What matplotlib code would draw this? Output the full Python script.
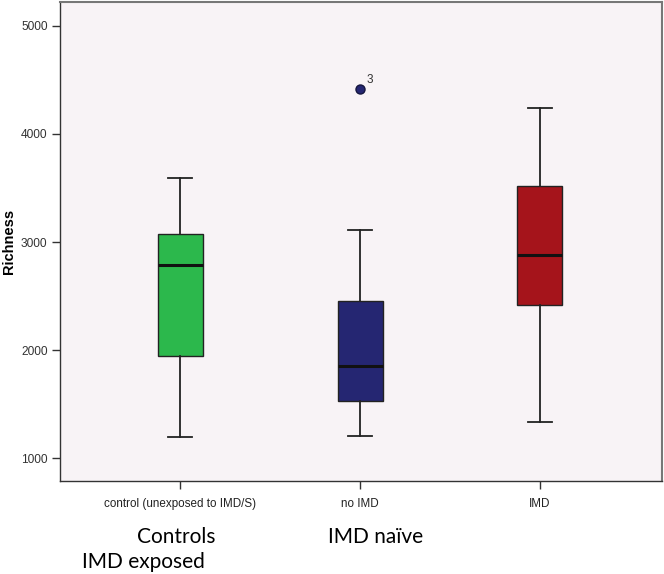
import matplotlib
matplotlib.use("Agg")
import matplotlib.pyplot as plt

categories = ["control (unexposed to IMD/S)", "no IMD", "IMD"]
whisker_low = [1200, 1203, 1333]
q1 = [1946, 1530, 2420]
median = [2785, 1856, 2880]
q3 = [3074, 2452, 3521]
whisker_high = [3589, 3111, 4236]
outliers = [[], [4417], []]
outlier_labels = [[], ["3"], []]
colors = ["#2cb84c", "#252672", "#a5141b"]
yticks = [1000, 2000, 3000, 4000, 5000]

W, H = 664, 574
fig = plt.figure(figsize=(W / 100, H / 100), dpi=100)
ax = fig.add_axes([60 / W, 1 - 481 / H, (662 - 60) / W, (481 - 2) / H])
ax.set_facecolor("#f8f3f6")

stats = []
for i in range(len(categories)):
    stats.append(dict(whislo=whisker_low[i], q1=q1[i], med=median[i], q3=q3[i],
                      whishi=whisker_high[i], fliers=outliers[i], label=categories[i]))

pos = list(range(len(categories)))
bp = ax.bxp(stats, positions=pos, widths=0.25, patch_artist=True, showfliers=True,
            boxprops=dict(linewidth=1.0, edgecolor="#222222"),
            medianprops=dict(color="#111111", linewidth=2.2),
            whiskerprops=dict(color="#222222", linewidth=1.3),
            capprops=dict(color="#222222", linewidth=1.3),
            flierprops=dict(marker="o", markerfacecolor="#252672", markeredgecolor="#15153f",
                            markersize=6.5, linestyle="none"))
for patch, c in zip(bp["boxes"], colors):
    patch.set_facecolor(c)
for cap in bp["caps"]:
    x0, x1 = cap.get_xdata()
    xm = (x0 + x1) / 2
    cap.set_xdata([xm - 0.065, xm + 0.065])

for i, (vals, labs) in enumerate(zip(outliers, outlier_labels)):
    for v, l in zip(vals, labs):
        ax.annotate(l, (pos[i], v), xytext=(5, 4), textcoords="offset points",
                    fontsize=8.5, color="#333333", family="Liberation Sans")

ax.set_xlim(-0.667, 2.678)
ax.set_ylim(790, 5220)
ax.set_yticks(yticks)
ax.set_yticklabels([str(t) for t in yticks], family="Liberation Sans", fontsize=8.6, color="#333333")
ax.set_xticks(pos)
ax.set_xticklabels(categories, family="Liberation Sans", fontsize=8.4, color="#222222")
ax.tick_params(axis="both", direction="out", length=6, width=1, color="#333333")
ax.tick_params(axis="x", pad=6)
ax.tick_params(axis="y", pad=3)
ax.set_ylabel("Richness", family="Liberation Sans", fontsize=10.5, fontweight="bold")
ax.yaxis.set_label_coords(-44 / 602, 0.5)

for s in ["left", "bottom"]:
    ax.spines[s].set_color("#333333")
    ax.spines[s].set_linewidth(1.0)
for s in ["top", "right"]:
    ax.spines[s].set_color("#777777")
    ax.spines[s].set_linewidth(1.5)

fig.text(176 / W, 1 - 537 / H, "Controls", ha="center", va="center", fontsize=15, family="Lato")
fig.text(143 / W, 1 - 562 / H, "IMD exposed", ha="center", va="center", fontsize=15, family="Lato")
fig.text(376 / W, 1 - 537 / H, "IMD naïve", ha="center", va="center", fontsize=15, family="Lato")

fig.savefig("out.png", dpi=100)
